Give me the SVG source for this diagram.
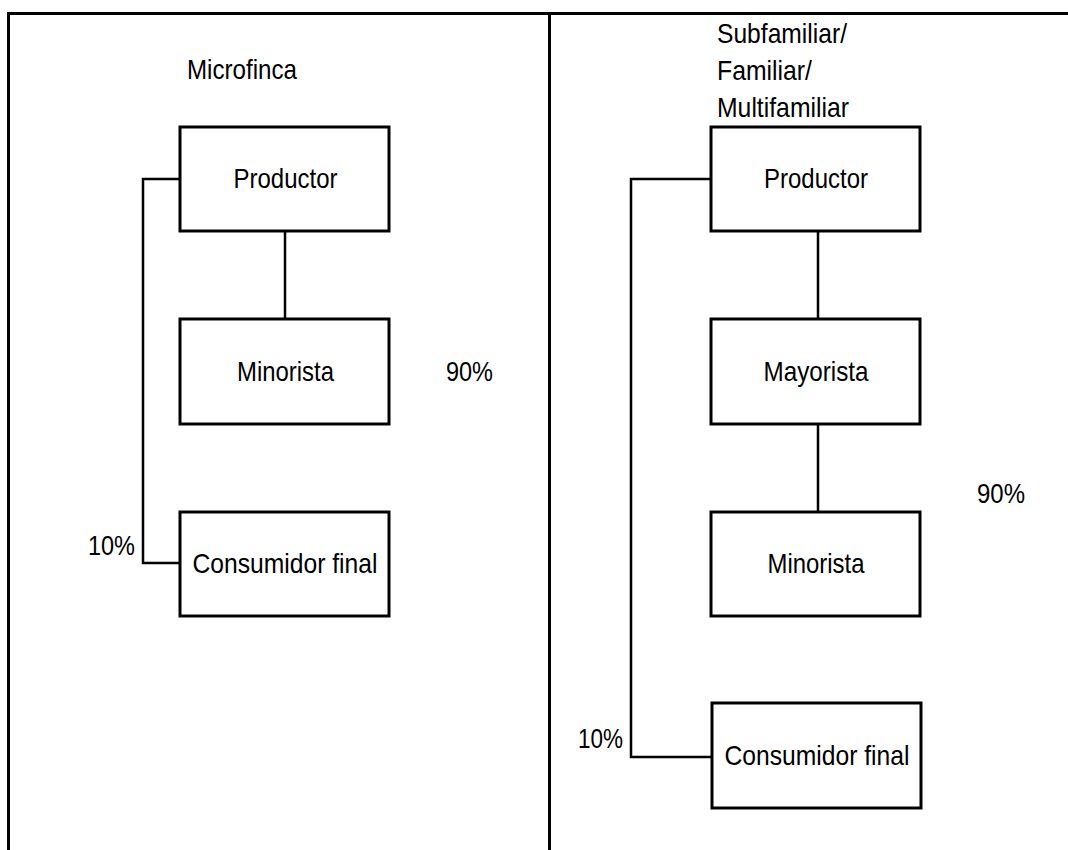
<svg xmlns="http://www.w3.org/2000/svg" width="1068" height="850" viewBox="0 0 1068 850">
  <style>
    .frame { stroke: #000; stroke-width: 3; fill: none; }
    .box { fill: #fff; stroke: #000; stroke-width: 3; }
    .link { stroke: #000; stroke-width: 2.5; fill: none; }
    text { font-family: "Liberation Sans", Arial, sans-serif; font-size: 28px; fill: #000; }
    .c { text-anchor: middle; }
  </style>
  <rect width="1068" height="850" fill="#fff"/>

  <!-- outer frame and column divider -->
  <g id="frame">
    <path class="frame" d="M8.5,850 V13.5 H1068"/>
    <path class="frame" d="M549.5,13.5 V850"/>
  </g>

  <!-- connectors -->
  <g id="connectors">
    <path class="link" d="M285,231 V319"/>
    <path class="link" d="M180,179 H143 V563 H180"/>
    <path class="link" d="M818,231 V319"/>
    <path class="link" d="M818,424 V512"/>
    <path class="link" d="M711,179 H631 V757 H712"/>
  </g>

  <!-- column headings and shares (condensed glyphs) -->
  <g id="labels">
    <text x="187" y="79" textLength="110" lengthAdjust="spacingAndGlyphs">Microfinca</text>
    <text x="717" y="43" textLength="130" lengthAdjust="spacingAndGlyphs">Subfamiliar/</text>
    <text x="717" y="80" textLength="95" lengthAdjust="spacingAndGlyphs">Familiar/</text>
    <text x="717" y="117" textLength="132" lengthAdjust="spacingAndGlyphs">Multifamiliar</text>
    <text x="446" y="381" textLength="47" lengthAdjust="spacingAndGlyphs">90%</text>
    <text x="88" y="555" textLength="47" lengthAdjust="spacingAndGlyphs">10%</text>
    <text x="977" y="503" textLength="48" lengthAdjust="spacingAndGlyphs">90%</text>
    <text x="578" y="748" textLength="45" lengthAdjust="spacingAndGlyphs">10%</text>
  </g>

  <!-- left column: Microfinca -->
  <g id="mf-productor">
    <rect class="box" x="180" y="127" width="209" height="104"/>
    <text class="c" x="285.5" y="188" textLength="104" lengthAdjust="spacingAndGlyphs">Productor</text>
  </g>
  <g id="mf-minorista">
    <rect class="box" x="180" y="319" width="209" height="105"/>
    <text class="c" x="285.5" y="381" textLength="97" lengthAdjust="spacingAndGlyphs">Minorista</text>
  </g>
  <g id="mf-consumidor">
    <rect class="box" x="180" y="512" width="209" height="104"/>
    <text class="c" x="285" y="573" textLength="185" lengthAdjust="spacingAndGlyphs">Consumidor final</text>
  </g>

  <!-- right column: Subfamiliar / Familiar / Multifamiliar -->
  <g id="fam-productor">
    <rect class="box" x="711" y="127" width="209" height="104"/>
    <text class="c" x="816" y="188" textLength="104" lengthAdjust="spacingAndGlyphs">Productor</text>
  </g>
  <g id="fam-mayorista">
    <rect class="box" x="711" y="319" width="209" height="105"/>
    <text class="c" x="816" y="381" textLength="105" lengthAdjust="spacingAndGlyphs">Mayorista</text>
  </g>
  <g id="fam-minorista">
    <rect class="box" x="711" y="512" width="209" height="104"/>
    <text class="c" x="816" y="573" textLength="97" lengthAdjust="spacingAndGlyphs">Minorista</text>
  </g>
  <g id="fam-consumidor">
    <rect class="box" x="712" y="703" width="209" height="105"/>
    <text class="c" x="817" y="765" textLength="185" lengthAdjust="spacingAndGlyphs">Consumidor final</text>
  </g>
</svg>
